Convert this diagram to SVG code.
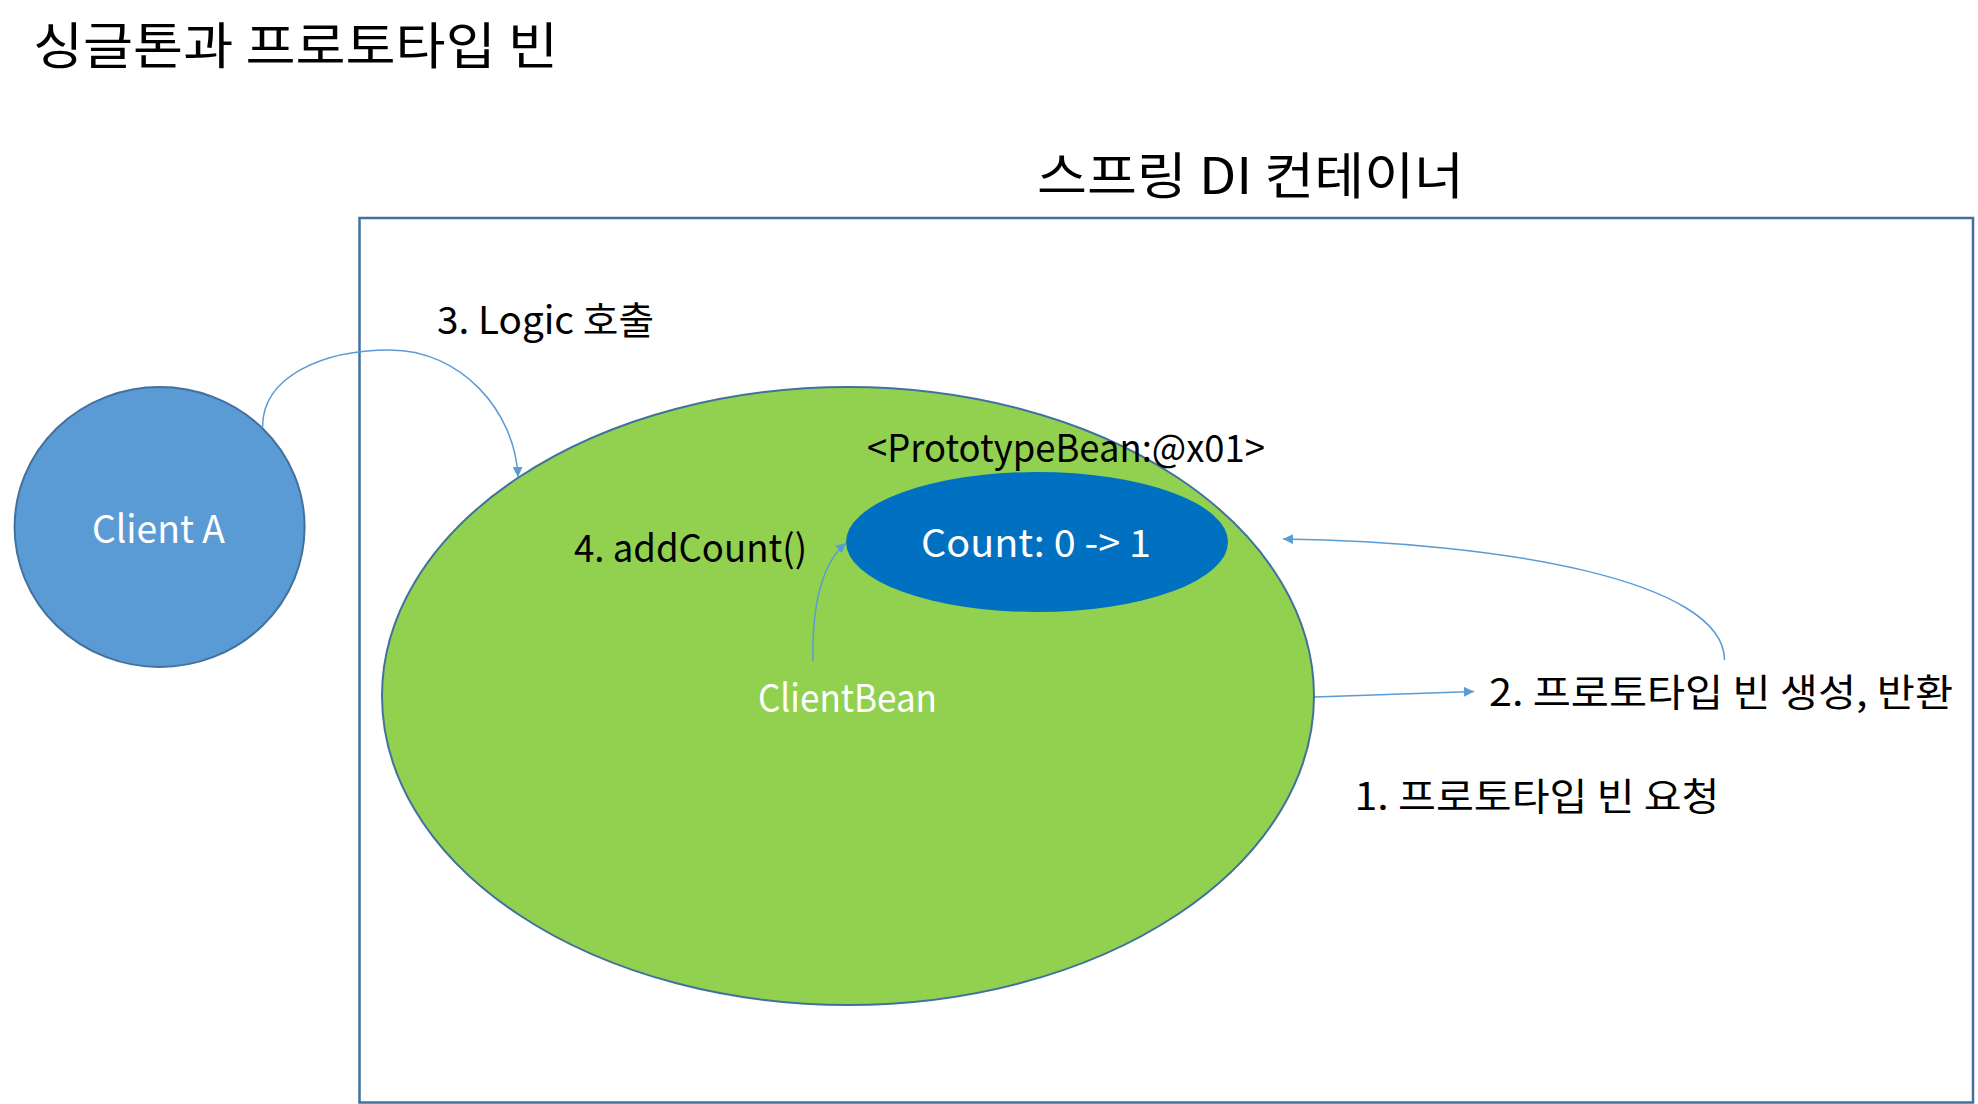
<svg xmlns="http://www.w3.org/2000/svg" width="1978" height="1104" viewBox="0 0 1978 1104">
<defs>
<style>
text{font-family:"Noto Sans CJK KR","Noto Sans",sans-serif;}
.t{font-size:50px;fill:#000;}
.l{font-size:38px;fill:#000;}
.w{font-size:38px;fill:#fff;}
.c{fill:none;stroke:#5B9BD5;stroke-width:1.5;}
</style>
<marker id="ah" viewBox="0 0 10 10" refX="10" refY="5" markerWidth="10" markerHeight="10" markerUnits="userSpaceOnUse" orient="auto">
<path d="M0,0 L10,5 L0,10 Z" fill="#5B9BD5"/>
</marker>
</defs>
<rect width="1978" height="1104" fill="#fff"/>
<text class="t" x="33" y="64" textLength="525" lengthAdjust="spacingAndGlyphs">싱글톤과 프로토타입 빈</text>
<g id="container">
<rect x="359.5" y="218" width="1613.5" height="884.5" fill="#fff" stroke="#41719C" stroke-width="2.5"/>
<text class="t" x="1037" y="194" textLength="427" lengthAdjust="spacingAndGlyphs">스프링 DI 컨테이너</text>
</g>
<g id="clientA">
<ellipse cx="159.6" cy="527" rx="145" ry="140" fill="#5B9BD5" stroke="#41719C" stroke-width="2"/>
<text class="w" x="92" y="543" textLength="133" lengthAdjust="spacingAndGlyphs">Client A</text>
</g>
<g id="clientBean">
<ellipse cx="848" cy="696" rx="466" ry="309" fill="#92D050" stroke="#41719C" stroke-width="2"/>
<text class="w" x="758" y="712" textLength="179" lengthAdjust="spacingAndGlyphs">ClientBean</text>
</g>
<g id="prototypeBean">
<ellipse cx="1037" cy="542" rx="191" ry="70" fill="#0070C0"/>
<text class="w" x="921" y="557" textLength="230" lengthAdjust="spacingAndGlyphs">Count: 0 -&gt; 1</text>
<text class="l" x="867" y="462" textLength="398" lengthAdjust="spacingAndGlyphs">&lt;PrototypeBean:@x01&gt;</text>
</g>
<g id="labels">
<text class="l" x="437" y="334" textLength="217" lengthAdjust="spacingAndGlyphs">3. Logic 호출</text>
<text class="l" x="574" y="562" textLength="233" lengthAdjust="spacingAndGlyphs">4. addCount()</text>
<text class="l" x="1489" y="706" textLength="464" lengthAdjust="spacingAndGlyphs">2. 프로토타입 빈 생성, 반환</text>
<text class="l" x="1354.5" y="810" textLength="365" lengthAdjust="spacingAndGlyphs">1. 프로토타입 빈 요청</text>
</g>
<g id="connectors">
<path class="c" d="M262.5,428 C262,375 325,350 390,350 C460,350 515,410 518,477" marker-end="url(#ah)"/>
<path class="c" d="M813,661 C812,610 820,565 846,543" marker-end="url(#ah)"/>
<path class="c" d="M1315,697 L1474,691.5" marker-end="url(#ah)"/>
<path class="c" d="M1724.5,660 C1724,580 1500,542 1283,539" marker-end="url(#ah)"/>
</g>
</svg>
